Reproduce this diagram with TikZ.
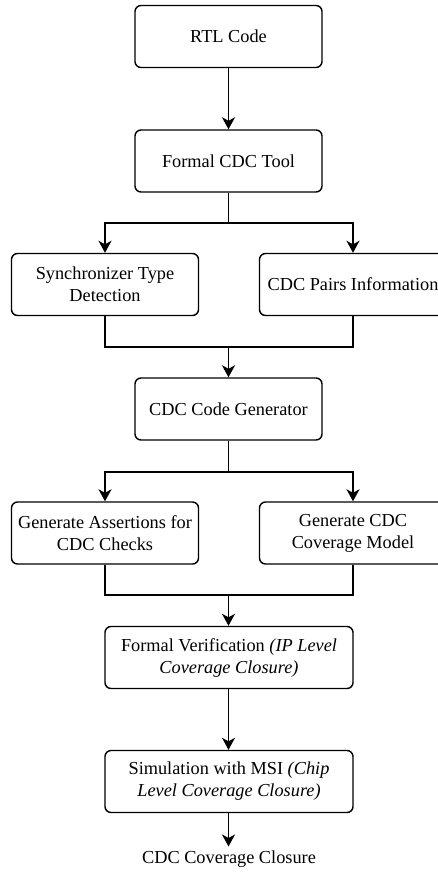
\documentclass[tikz,border=0pt]{standalone}
\usepackage{fontspec}
\setmainfont{Liberation Serif}
\usetikzlibrary{arrows.meta}
\tikzset{
  flow_n/.style = {draw=black, rounded corners=6pt, align=center,
    line width=1.4pt, minimum width=187pt, minimum height=62pt,
    inner sep=2pt, font=\fontsize{18.3}{22}\selectfont},
  flow_w/.style = {flow_n, minimum width=248pt},
  flow_t/.style = {align=center, font=\fontsize{18.3}{22}\selectfont}
}

\begin{document}
\begin{tikzpicture}[x=1pt, y=1pt, line width=1.7pt,
  >={Stealth[length=12pt, width=13pt, inset=3.5pt]}]
\useasboundingbox (0,0) rectangle (438,-873);
\node [flow_n] (rtl)    at (228.5,-36.5) {RTL Code};
\node [flow_n] (tool)   at (228.5,-161)  {Formal CDC Tool};
\node [flow_n] (sync)   at (105,-284.5)  {Synchronizer Type\\Detection};
\node [flow_n] (pairs)  at (353,-284.5)  {CDC Pairs Information};
\node [flow_n] (gen)    at (228.5,-409)  {CDC Code Generator};
\node [flow_n] (assert) at (105,-533)    {Generate Assertions for\\CDC Checks};
\node [flow_n] (cov)    at (353,-533)    {Generate CDC\\Coverage Model};
\node [flow_w] (fv)     at (229,-657.5)  {Formal Verification \textit{(IP Level}\\\textit{Coverage Closure)}};
\node [flow_w] (sim)    at (229,-781.5)  {Simulation with MSI \textit{(Chip}\\\textit{Level Coverage Closure)}};
\node [flow_t] (close)  at (229,-859)    {CDC Coverage Closure};
% split and join points
\coordinate (split1) at (228.5,-223);
\coordinate (join1)  at (228.5,-347);
\coordinate (split2) at (228.5,-472);
\coordinate (join2)  at (228.5,-595);

\draw [->] (rtl) -- (tool);
\draw (tool) -- (split1);
\draw [->] (split1) -| (sync);
\draw [->] (split1) -| (pairs);
\draw (sync) |- (join1) -| (pairs);
\draw [->] (join1) -- (gen);
\draw (gen) -- (split2);
\draw [->] (split2) -| (assert);
\draw [->] (split2) -| (cov);
\draw (assert) |- (join2) -| (cov);
\draw [->] (join2) -- (fv.north -| join2);
\draw [->] (fv.south -| join2) -- (sim.north -| join2);
\draw [->] (sim.south -| join2) -- (close.north -| join2);
\end{tikzpicture}
\end{document}
